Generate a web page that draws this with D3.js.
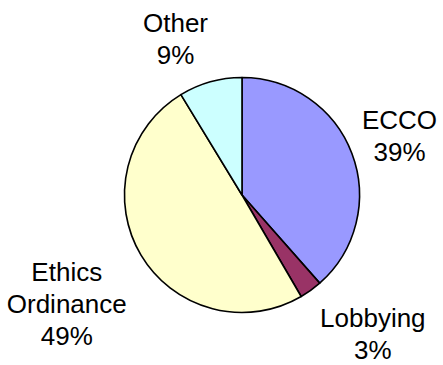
<!DOCTYPE html>
<html>
<head>
<meta charset="utf-8">
<script src="https://cdn.jsdelivr.net/npm/d3@7"></script>
<style>
  html, body { margin: 0; padding: 0; background: #fff; }
  svg { display: block; }
  text { font-family: "Liberation Sans", Arial, sans-serif; fill: #000; }
</style>
</head>
<body>
<svg id="chart" width="443" height="365"></svg>
<script>
// ---- data ----
const categories = ["ECCO", "Lobbying", "Ethics Ordinance", "Other"];
const values = [38.5, 3.1, 49.7, 8.7];
const percentLabels = ["39%", "3%", "49%", "9%"];
const labelLines = [["ECCO"], ["Lobbying"], ["Ethics", "Ordinance"], ["Other"]];
const colors = ["#9999FF", "#993366", "#FFFFCC", "#CCFFFF"];

// ---- layout ----
const W = 443, H = 365;
const cx = 242, cy = 195, R = 117.5;
const fontSize = 26, lineH = 32, capH = 0.716 * fontSize, gap = 6.8;
const nudges = [[0, 0], [28, -4], [-6, 8], [-24, -4.5]];

const svg = d3.select("#chart");
const g = svg.append("g").attr("transform", `translate(${cx},${cy})`);

const pie = d3.pie().sort(null).value(d => d.v);
const arcs = pie(categories.map((c, i) => ({ c, v: values[i], i })));
const arc = d3.arc().innerRadius(0).outerRadius(R);

g.selectAll("path.slice")
  .data(arcs)
  .join("path")
  .attr("class", "slice")
  .attr("d", arc)
  .attr("fill", d => colors[d.data.i])
  .attr("stroke", "#000")
  .attr("stroke-width", 1.6)
  .attr("stroke-linejoin", "round");

// labels
arcs.forEach(d => {
  const i = d.data.i;
  const lines = labelLines[i].concat([percentLabels[i]]);
  const t = svg.append("text")
    .attr("text-anchor", "middle")
    .style("font-size", fontSize + "px");
  const spans = lines.map(l => t.append("tspan").text(l));
  let w = 0;
  spans.forEach(s => { w = Math.max(w, s.node().getComputedTextLength()); });
  const h = (lines.length - 1) * lineH + capH;
  const a = (d.startAngle + d.endAngle) / 2;
  const s = Math.sin(a), c = Math.cos(a);
  const support = Math.abs(s) * w / 2 + Math.abs(c) * h / 2;
  const dist = R + gap + support;
  const bx = cx + s * dist + nudges[i][0];
  const by = cy - c * dist + nudges[i][1];
  const firstBase = by - h / 2 + capH;
  spans.forEach((sp, k) => {
    sp.attr("x", bx).attr("y", firstBase + k * lineH);
  });
});
</script>
</body>
</html>
